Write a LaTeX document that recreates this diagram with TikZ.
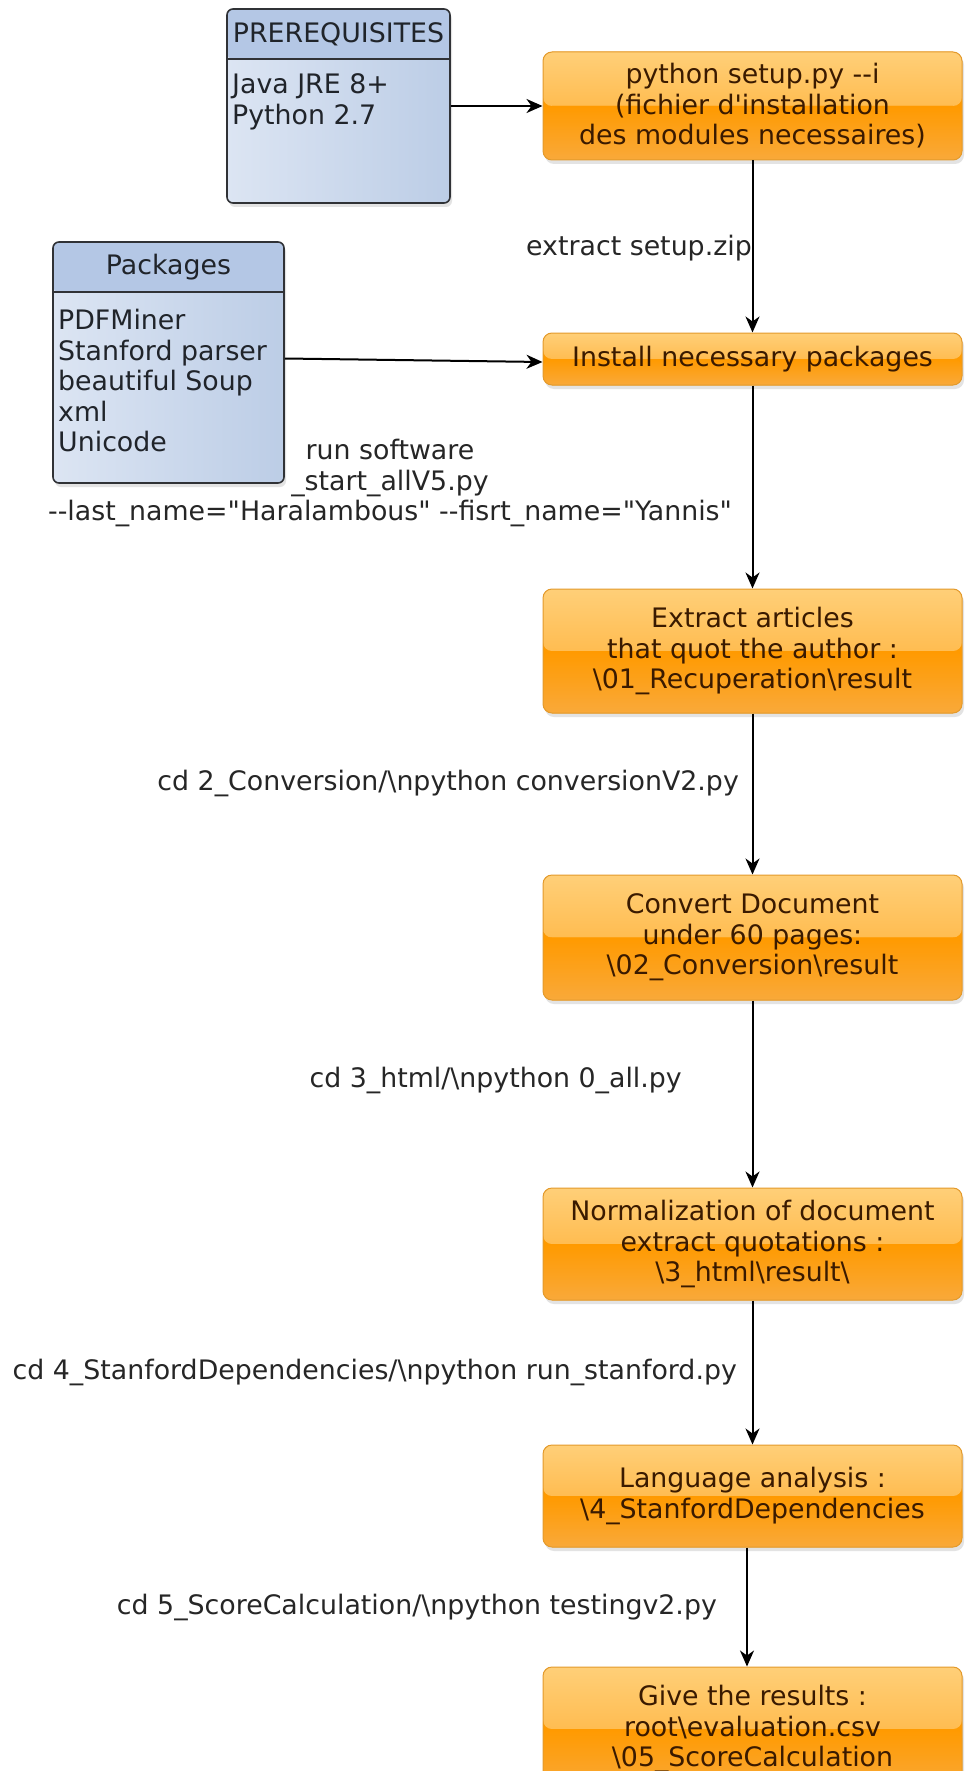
\documentclass[tikz,border=0pt]{standalone}
\usepackage{fontspec}
\newfontfamily\dv{DejaVu Sans}
\usetikzlibrary{arrows.meta,shadows}
\definecolor{orM}{HTML}{FF9A00}
\definecolor{orT}{HTML}{FFCF78}
\definecolor{orH}{HTML}{FFAA2A}
\definecolor{orB}{HTML}{F9A93A}
\definecolor{orD}{HTML}{E39A2C}
\definecolor{txt}{HTML}{3A1A00}
\definecolor{labc}{HTML}{262626}
\definecolor{bhead}{HTML}{B4C7E5}
\definecolor{bL}{HTML}{DCE5F3}
\definecolor{bR}{HTML}{BCCDE6}
\definecolor{bline}{HTML}{303236}
\definecolor{htxt}{HTML}{20242A}
\begin{document}
\begin{tikzpicture}[x=1pt,y=-1pt,
  every node/.style={font=\dv\fontsize{26.8}{30.5}\selectfont, inner sep=0pt},
  procbox/.style={draw=orD, line width=1pt, rounded corners=9pt, fill=orM,
    minimum width=419pt, text=txt, align=center,
    drop shadow={shadow xshift=2pt, shadow yshift=-4pt, opacity=0.22},
    path picture={
      \fill[top color=orT, bottom color=orH] (path picture bounding box.north west) rectangle (path picture bounding box.east);
      \fill[top color=orM, bottom color=orB] (path picture bounding box.west) rectangle (path picture bounding box.south east);
    }},
  listbox/.style={draw=bline, line width=1.6pt, rounded corners=6pt,
    left color=bL, right color=bR,
    drop shadow={shadow xshift=2pt, shadow yshift=-4pt, opacity=0.22},
    path picture={
      \fill[bhead] (path picture bounding box.north west) rectangle ([yshift=-50pt]path picture bounding box.north east);
      \draw[bline, line width=1.6pt] ([yshift=-50pt]path picture bounding box.north west) -- ([yshift=-50pt]path picture bounding box.north east);
    }},
  headtxt/.style={text=htxt},
  itemtxt/.style={text=htxt, align=left},
  labtxt/.style={text=labc},
  conn/.style={draw=black, line width=2pt, -{Stealth[length=16pt, width=14pt, inset=5pt]}}
]
\clip (0,0) rectangle (964,1771);
\fill[white] (0,0) rectangle (964,1771);

% blue list boxes
\node[listbox, minimum width=223pt, minimum height=194pt] (pre) at (338.5,106) {};
\node[headtxt] (preT) at (338.5,34) {PREREQUISITES};
\node[itemtxt, anchor=west] (preL) at (232,102) {Java JRE 8+\\Python 2.7};

\node[listbox, minimum width=231pt, minimum height=241pt] (pkg) at (168.5,362.5) {};
\node[headtxt] (pkgT) at (168.5,267) {Packages};
\node[itemtxt, anchor=west] (pkgL) at (58,381) {PDFMiner\\Stanford parser\\beautiful Soup\\xml\\Unicode};

% process boxes
\node[procbox, minimum height=108pt] (b1) at (752.5,106) {python setup.py --i\\(fichier d'installation\\des modules necessaires)};
\node[procbox, minimum height=52pt] (b2) at (752.5,359) {Install necessary packages};
\node[procbox, minimum height=124pt] (b3) at (752.5,651) {Extract articles\\that quot the author :\\\textbackslash 01\_Recuperation\textbackslash result};
\node[procbox, minimum height=125pt] (b4) at (752.5,937.5) {Convert Document\\under 60 pages:\\\textbackslash 02\_Conversion\textbackslash result};
\node[procbox, minimum height=112pt] (b5) at (752.5,1244) {Normalization of document\\extract quotations :\\\textbackslash 3\_html\textbackslash result\textbackslash};
\node[procbox, minimum height=102pt] (b6) at (752.5,1496) {Language analysis :\\\textbackslash 4\_StanfordDependencies};
\node[procbox, minimum height=124pt] (b7) at (752.5,1729) {Give the results :\\root\textbackslash evaluation.csv\\\textbackslash 05\_ScoreCalculation};

% connectors
\draw[conn] (pre.east) -- (b1.west);
\draw[conn] ([yshift=4pt]pkg.east) -- ([yshift=-3pt]b2.west);
\draw[conn] (b1.south) -- (b2.north);
\draw[conn] (b2.south) -- (b3.north);
\draw[conn] (b3.south) -- (b4.north);
\draw[conn] (b4.south) -- (b5.north);
\draw[conn] (b5.south) -- (b6.north);
\draw[conn] ([xshift=-5.5pt]b6.south) -- ([xshift=-5.5pt]b7.north);

% labels
\node[labtxt, anchor=east] (l1) at (752,248) {extract setup.zip};
\node[labtxt, align=center] (l2) at (390,483) {run software\\\_start\_allV5.py\\--last\_name="Haralambous" --fisrt\_name="Yannis"};
\node[labtxt, anchor=east] (l3) at (739,783) {cd 2\_Conversion/\textbackslash npython conversionV2.py};
\node[labtxt, anchor=east] (l4) at (682,1080) {cd 3\_html/\textbackslash npython 0\_all.py};
\node[labtxt, anchor=east] (l5) at (737,1372) {cd 4\_StanfordDependencies/\textbackslash npython run\_stanford.py};
\node[labtxt, anchor=east] (l6) at (717,1607) {cd 5\_ScoreCalculation/\textbackslash npython testingv2.py};
\end{tikzpicture}
\end{document}
